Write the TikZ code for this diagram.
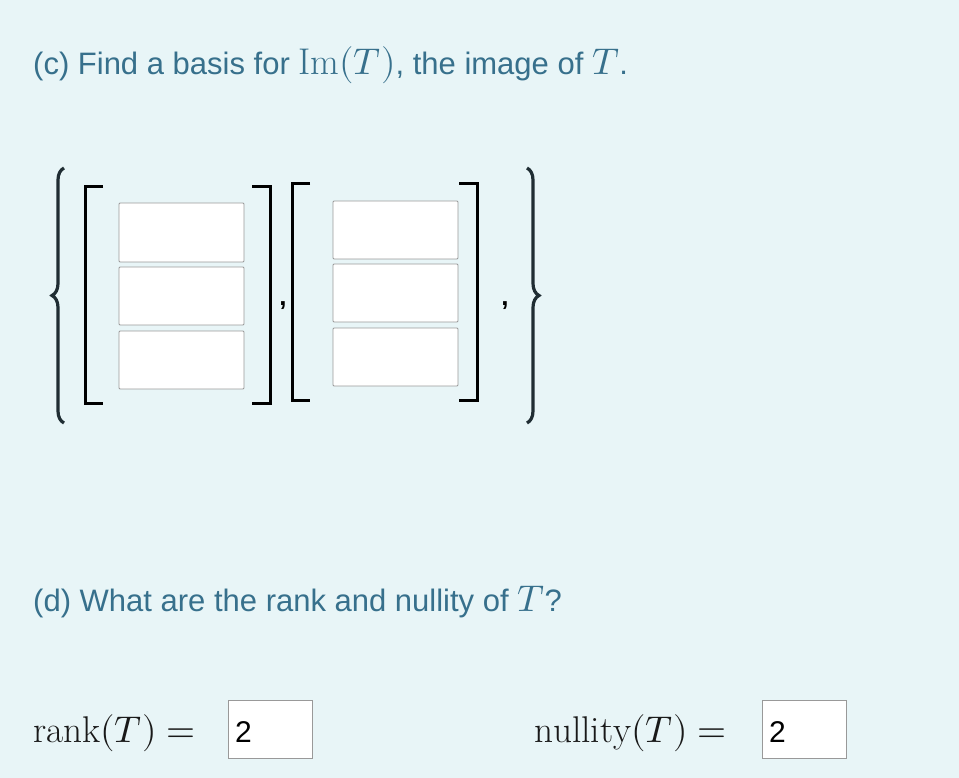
\documentclass[tikz,border=0pt]{standalone}
\usepackage{fontspec}
\setmainfont{Liberation Sans}
\usepackage{unicode-math}
\setmathfont{Latin Modern Math}[Scale=1.2]
\setmathrm{Latin Modern Roman}[Scale=1.2]
\usetikzlibrary{decorations.pathreplacing}
\definecolor{bg}{HTML}{E8F5F7}
\definecolor{txt}{HTML}{37708C}
\definecolor{ink}{HTML}{1F2D33}
\begin{document}
\begin{tikzpicture}[x=1pt,y=-1pt,
  inbox/.style={draw=gray!80,fill=white,rounded corners=1pt,line width=0.8pt},
  brk/.style={line width=3pt,draw=black},
  brc/.style={decorate,decoration={brace,amplitude=12pt},line width=3.2pt,draw=ink},
  lbl/.style={anchor=base west,inner sep=0pt,text=txt,font=\fontsize{31}{34}\selectfont}]
\fill[bg] (0,0) rectangle (959,778);
\useasboundingbox (0,0) rectangle (959,778);
\node[lbl] (c) at (33,75) {(c) Find a basis for $\mathrm{Im}(T)$, the image of $T$.};
% left vector
\draw[inbox] (119,203) rectangle (244,262);
\draw[inbox] (119,267) rectangle (244,325);
\draw[inbox] (119,331) rectangle (244,389);
\draw[brk] (103,187) -- (85,187) -- (85,403) -- (103,403);
\draw[brk] (252,187) -- (270,187) -- (270,403) -- (252,403);
% right vector
\draw[inbox] (333,201) rectangle (458,259);
\draw[inbox] (333,264) rectangle (458,322);
\draw[inbox] (333,328) rectangle (458,386);
\draw[brk] (310,184) -- (292,184) -- (292,400) -- (310,400);
\draw[brk] (459,184) -- (477,184) -- (477,400) -- (459,400);
\node[inner sep=0pt,font=\fontsize{26}{26}\selectfont\bfseries] (k1) at (283,306) {,};
\node[inner sep=0pt,font=\fontsize{26}{26}\selectfont\bfseries] (k2) at (505,306) {,};
% braces
\draw[brc] (64,423) -- (64,168);
\draw[brc] (527,168) -- (527,423);
\node[lbl] (d) at (33,611) {(d) What are the rank and nullity of $T$?};
\node[anchor=base west,inner sep=0pt,font=\fontsize{31}{31}\selectfont,text=black!90] (r) at (33,742) {$\mathrm{rank}(T)=$};
\draw[inbox,rounded corners=0pt] (228,700) rectangle (312,758);
\node[anchor=base west,inner sep=0pt,font=\fontsize{30}{30}\selectfont] (r2) at (235,742) {2};
\node[anchor=base west,inner sep=0pt,font=\fontsize{31}{31}\selectfont,text=black!90] (n) at (534,742) {$\mathrm{nullity}(T)=$};
\draw[inbox,rounded corners=0pt] (762,700) rectangle (846,758);
\node[anchor=base west,inner sep=0pt,font=\fontsize{30}{30}\selectfont] (n2) at (769,742) {2};
\end{tikzpicture}
\end{document}
